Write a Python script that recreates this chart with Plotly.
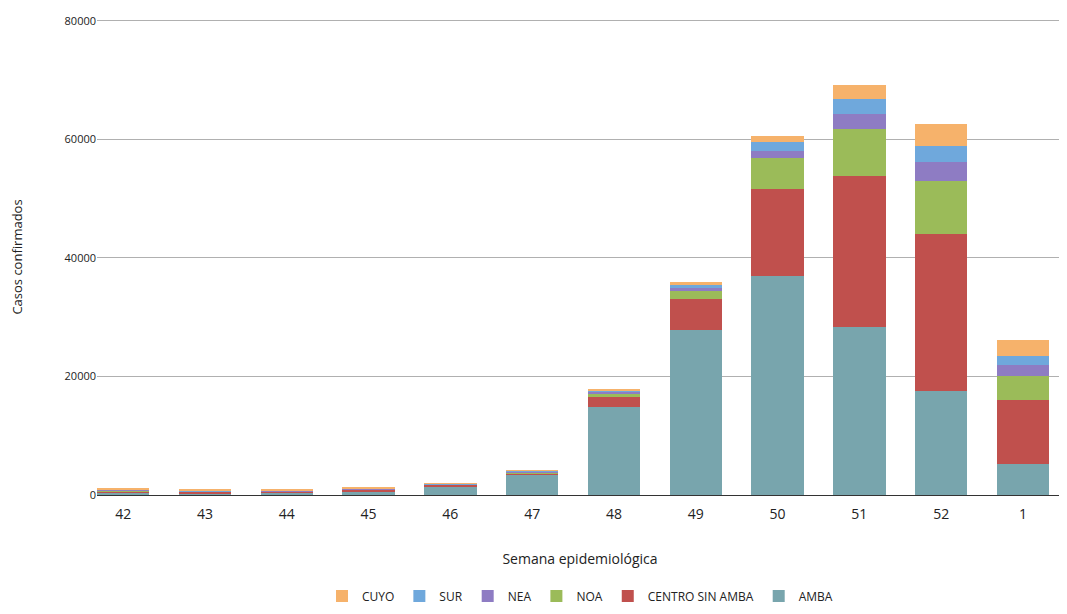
import plotly.graph_objects as go

semanas = ["42", "43", "44", "45", "46", "47", "48", "49", "50", "51", "52", "1"]
amba = [400, 300, 400, 600, 1500, 3300, 14900, 27900, 37000, 28400, 17500, 5200]
centro = [250, 250, 200, 300, 250, 400, 1600, 5200, 14700, 25400, 26600, 10800]
noa = [150, 50, 50, 50, 50, 100, 500, 1300, 5100, 8000, 8800, 4000]
nea = [50, 50, 50, 150, 50, 100, 400, 500, 1200, 2500, 3200, 2000]
sur = [50, 50, 50, 50, 50, 200, 300, 500, 1500, 2500, 2800, 1500]
cuyo = [200, 150, 150, 50, 100, 100, 200, 500, 1000, 2300, 3700, 2700]

series = [
    ("AMBA", amba, "#78a5ad"),
    ("CENTRO SIN AMBA", centro, "#c0504d"),
    ("NOA", noa, "#9bbb59"),
    ("NEA", nea, "#8e7cc3"),
    ("SUR", sur, "#6fa8dc"),
    ("CUYO", cuyo, "#f6b26b"),
]

fig = go.Figure()
for name, vals, color in series:
    fig.add_trace(go.Bar(x=semanas, y=vals, name=name, marker_color=color, marker_line_width=0))

fig.update_layout(
    barmode="stack",
    bargap=0.36,
    width=1067, height=614,
    paper_bgcolor="white", plot_bgcolor="white",
    margin=dict(l=89, r=12, t=11, b=121),
    font=dict(family="Open Sans, Arial", color="#222"),
    xaxis=dict(type="category", range=[-0.32, 11.49], tickfont=dict(size=14), ticks="",
               showline=True, linecolor="#333", automargin=False, ticklabelstandoff=6,
               title=dict(text="Semana epidemiológica", font=dict(size=14), standoff=32)),
    yaxis=dict(range=[0, 80300], tickvals=[0, 20000, 40000, 60000, 80000], tickformat="d",
               gridcolor="#b0b0b0", tickfont=dict(size=11), zeroline=False, automargin=False,
               title=dict(text="Casos confirmados", font=dict(size=13), standoff=40)),
    legend=dict(orientation="h", traceorder="reversed", x=0.5, xanchor="center",
                y=-0.212, yanchor="middle", font=dict(size=12)),
)
fig.write_html("out.html")
